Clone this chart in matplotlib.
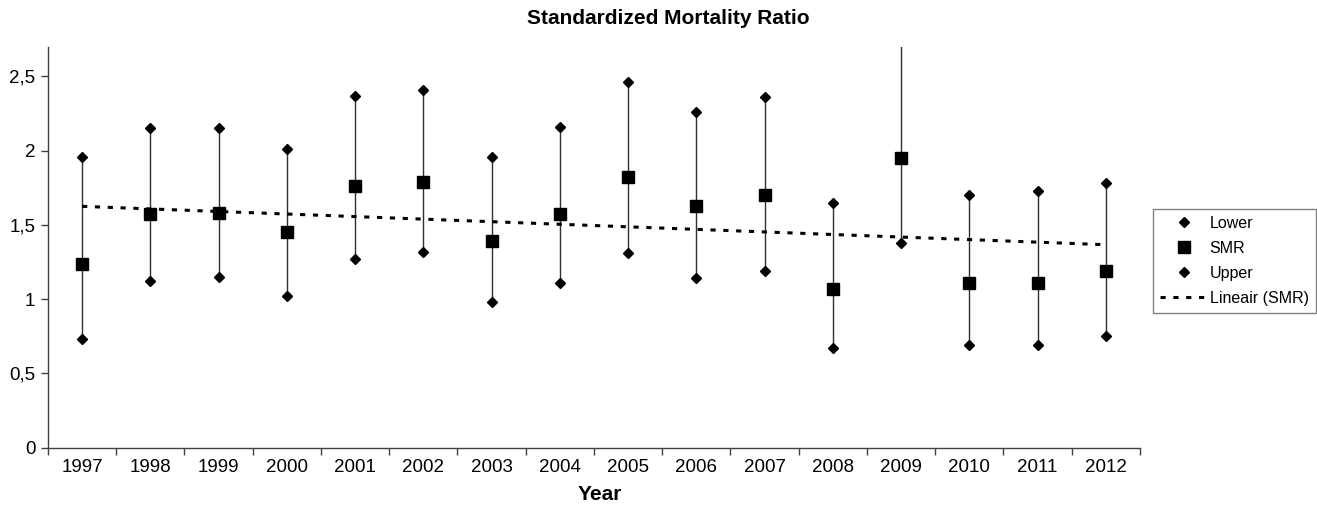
import matplotlib
matplotlib.use("Agg")
import matplotlib.pyplot as plt
import numpy as np

plt.rcParams['font.family'] = ['Liberation Sans', 'DejaVu Sans']

years = ['1997', '1998', '1999', '2000', '2001', '2002', '2003', '2004',
         '2005', '2006', '2007', '2008', '2009', '2010', '2011', '2012']
smr = [1.24, 1.57, 1.58, 1.45, 1.76, 1.79, 1.39, 1.57,
       1.82, 1.63, 1.70, 1.07, 1.95, 1.11, 1.11, 1.19]
lower = [0.73, 1.12, 1.15, 1.02, 1.27, 1.32, 0.98, 1.11,
         1.31, 1.14, 1.19, 0.67, 1.38, 0.69, 0.69, 0.75]
upper = [1.96, 2.15, 2.15, 2.01, 2.37, 2.41, 1.96, 2.16,
         2.46, 2.26, 2.36, 1.65, 2.80, 1.70, 1.73, 1.78]
yticks = [0, 0.5, 1, 1.5, 2, 2.5]
ytick_labels = ['0', '0,5', '1', '1,5', '2', '2,5']

fig = plt.figure(figsize=(13.17, 5.07), dpi=100)
ax = fig.add_axes([0.0364, 0.117, 0.8292, 0.791])

x = np.arange(len(years))
ax.vlines(x, lower, upper, colors='#303030', linewidth=1.0, zorder=1)
ax.plot(x, lower, linestyle='none', marker='D', markersize=5.5, color='black',
        label='Lower', zorder=3)
ax.plot(x, smr, linestyle='none', marker='s', markersize=9, color='black',
        label='SMR', zorder=3)
ax.plot(x, upper, linestyle='none', marker='D', markersize=5.5, color='black',
        label='Upper', zorder=3)
coef = np.polyfit(x, smr, 1)
ax.plot(x, np.polyval(coef, x), color='black', linewidth=2.2,
        linestyle=(0, (1.7, 2.5)), label='Lineair (SMR)', zorder=2)

ax.set_xlim(-0.5, len(years) - 0.5)
ax.set_ylim(0, 2.7)
ax.set_yticks(yticks)
ax.set_yticklabels(ytick_labels, fontsize=13.5)
ax.set_xticks(np.arange(len(years) + 1) - 0.5)
ax.set_xticklabels([])
ax.set_xticks(x, minor=True)
ax.set_xticklabels(years, minor=True, fontsize=13.5)
ax.tick_params(axis='x', which='minor', length=0, pad=8)
ax.tick_params(axis='x', which='major', length=5, width=1, direction='out', color='#404040')
ax.tick_params(axis='y', length=5, width=1, direction='out', color='#404040', pad=4)
for s in ['top', 'right']:
    ax.spines[s].set_visible(False)
for s in ['left', 'bottom']:
    ax.spines[s].set_color('#404040')
    ax.spines[s].set_linewidth(1.0)

fig.text(600 / 1317, 1 - 495 / 507, 'Year', fontsize=15, fontweight='bold',
         ha='center', va='center')
fig.text(668 / 1317, 1 - 19 / 507, 'Standardized Mortality Ratio', fontsize=15,
         fontweight='bold', ha='center', va='center')

leg = fig.legend(loc='upper left', bbox_to_anchor=(0.8755, 0.588), fontsize=11.5,
                 frameon=True, fancybox=False, edgecolor='#606060',
                 handlelength=3.0, borderpad=0.45, labelspacing=0.62,
                 handletextpad=0.1, borderaxespad=0)
leg.get_frame().set_linewidth(1.0)

fig.savefig('out.png', dpi=100)
